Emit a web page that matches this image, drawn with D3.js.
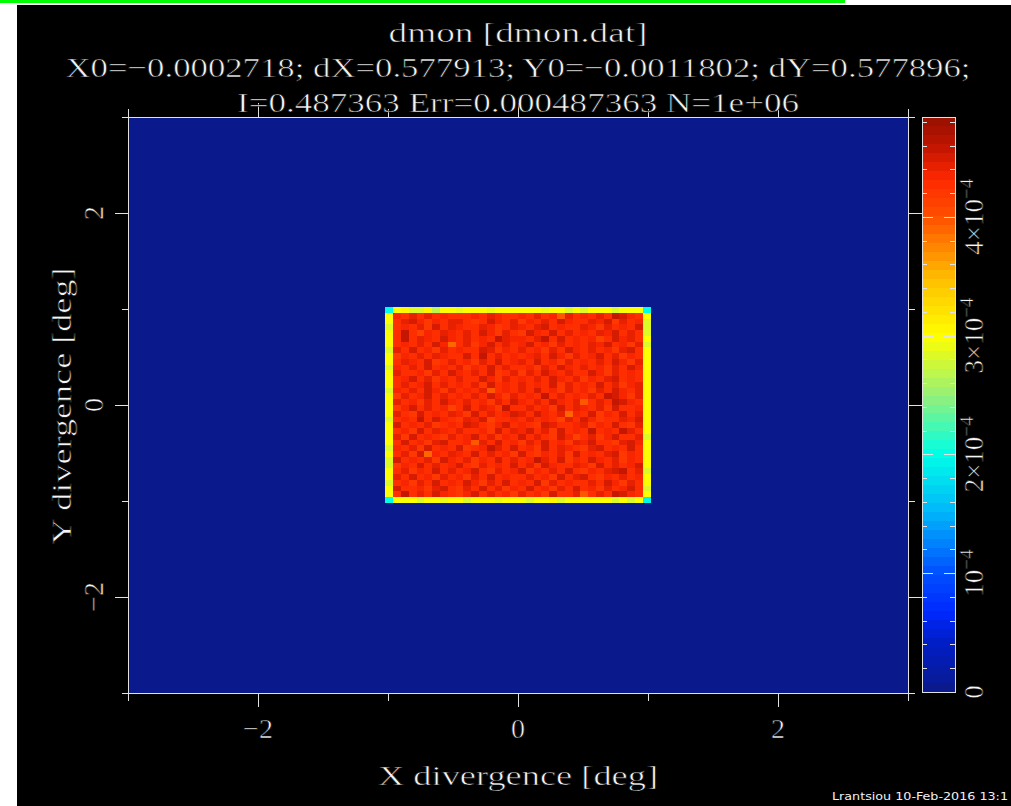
<!DOCTYPE html>
<html lang="en">
<head>
<meta charset="UTF-8">
<title>dmon [dmon.dat]</title>
<script src="https://d3js.org/d3.v7.min.js"></script>
<style>
  html, body { margin: 0; padding: 0; background: #fff; overflow: hidden; }
  svg { display: block; }
  .pg text { font-family: "Liberation Serif", "DejaVu Serif", serif; fill: #f4f4f4; stroke: #000; stroke-width: 0.6; }
  .footer { font-family: "DejaVu Sans Condensed", "DejaVu Sans", sans-serif; fill: #f0f0f0; }
</style>
</head>
<body>
<svg id="chart" width="1011" height="806"></svg>
<script>
// ---- text ----
const titleLines = [
  "dmon [dmon.dat]",
  "X0=\u22120.0002718; dX=0.577913; Y0=\u22120.0011802; dY=0.577896;",
  "I=0.487363 Err=0.000487363 N=1e+06"
];
const xLabel = "X divergence [deg]";
const yLabel = "Y divergence [deg]";
const footer = "Lrantsiou 10-Feb-2016 13:1";

// ---- axes ----
const xLimits = [-3, 3];
const yLimits = [-3, 3];
const xMajorTicks = [-2, 0, 2];
const xMinorTicks = [-3, -1, 1, 3];
const yMajorTicks = [-2, 0, 2];
const yMinorTicks = [-3, -1, 1, 3];
const tickText = ["\u22122", "0", "2"];

// ---- colour bar ----
const cbMax = 4.84e-4;
const cbMajorTicks = [0, 1e-4, 2e-4, 3e-4, 4e-4];
const cbMinorTicks = [0.2e-4, 0.4e-4, 0.6e-4, 0.8e-4, 1.2e-4, 1.4e-4, 1.6e-4, 1.8e-4,
  2.2e-4, 2.4e-4, 2.6e-4, 2.8e-4, 3.2e-4, 3.4e-4, 3.6e-4, 3.8e-4, 4.2e-4, 4.4e-4, 4.6e-4, 4.8e-4];
const cbMantissa = ["0", "10", "2\u00d710", "3\u00d710", "4\u00d710"];
const cbExponent = ["", "\u22124", "\u22124", "\u22124", "\u22124"];
const cbLevels = 64;
const cmapStops = [0, 0.43e-4, 0.67e-4, 1.0e-4, 1.5e-4, 2.0e-4, 2.5e-4, 3.0e-4, 3.48e-4, 3.76e-4, 4.0e-4, 4.32e-4, 4.6e-4, 4.84e-4];
const cmapColors = ["#0a1a8c", "#001ec8", "#0028ff", "#0050ff", "#00b4fa", "#00ffe6", "#96f078",
  "#ffff00", "#ffbe00", "#ff8200", "#ff5000", "#ff2800", "#be1400", "#961000"];

// ---- histogram (100 x 100 bins, beam box fills bins 33..66) ----
const binCount = 100;
const boxBins = [33, 66];
// digit codes -> intensity
const interiorLevels = [3.88e-4, 4.00e-4, 4.10e-4, 4.18e-4, 4.25e-4, 4.31e-4, 4.37e-4, 4.44e-4, 4.52e-4, 4.60e-4];
const edgeLevels = [2.62e-4, 2.68e-4, 2.74e-4, 2.80e-4, 2.86e-4, 2.92e-4, 2.98e-4, 3.04e-4, 3.10e-4, 3.16e-4];
const cornerValues = [2.02e-4, 1.98e-4, 2.02e-4, 1.95e-4]; // TL, TR, BL, BR
// interior rows, top (bin 65) to bottom (bin 34), columns bin 34..65
const interiorRows = [
  "64757465546576456475617564759865",
  "57863647753486573647586457683746",
  "46573857654763476578465476374658",
  "59426576574863743864857465768574",
  "49576486574659766579585656248675",
  "56475860473685746846375647685637",
  "75846374654873657463748657463784",
  "36574765584957465674863746857365",
  "57648357463758467584637465748637",
  "64758465736584754637486574637486",
  "75463748657483573748657448637465",
  "56847364754863746574865736478564",
  "47568475647384657465837565847367",
  "65748637465714657584637463748657",
  "37468574657486374659574657498637",
  "74637486574637486574865715749865",
  "36857462584763954756385764738546",
  "75384657638574687486570648365847",
  "56494865376825465746527486354768",
  "84657356487536846538745673658437",
  "46385764754638576847384659465974",
  "73856437468573648574386247368547",
  "58463784561758463748563768453786",
  "64738564835697485638476537846584",
  "47380657648574638536473856478365",
  "85647386473658475697483648657364",
  "36485746853746584738654763857468",
  "57364857468537468365748536478957",
  "74856375637485645746384785364756",
  "46375846586374856483746547586374",
  "85463784374857364856374856374685",
  "49574865368475637463854715749865"
];
const topEdge    = "68337166566656666665663636663666";
const bottomEdge = "66636656636665666366736666663636";
const leftEdge   = "66366636636663666636666363366366";
const rightEdge  = "63336366666666666666636666636636";

// ---- layout ----
const W = 1011, H = 806;
const plot = { left: 128, right: 908, top: 117, bottom: 693 };
const cbar = { left: 922, right: 955, top: 117, bottom: 692 };

const svg = d3.select("#chart");

// page frame: white margin, green strip, black canvas
svg.append("rect").attr("x", 0).attr("y", 0).attr("width", W).attr("height", H).attr("fill", "#fff");
svg.append("rect").attr("x", 17).attr("y", 5).attr("width", W - 17).attr("height", H - 5).attr("fill", "#000");
svg.append("rect").attr("x", 0).attr("y", 0).attr("width", 845).attr("height", 3).attr("fill", "#00ff00");

const xScale = d3.scaleLinear().domain(xLimits).range([plot.left, plot.right]);
const yScale = d3.scaleLinear().domain(yLimits).range([plot.bottom, plot.top]);
const cbScale = d3.scaleLinear().domain([0, cbMax]).range([cbar.bottom, cbar.top]);

const cmap = d3.scaleLinear().domain(cmapStops).range(cmapColors).interpolate(d3.interpolateRgb).clamp(true);
function levelOf(v) {
  return Math.max(0, Math.min(cbLevels - 1, Math.floor(v / cbMax * cbLevels)));
}
function levelColor(k) {
  return k === 0 ? cmapColors[0] : cmap((k + 0.5) / cbLevels * cbMax);
}
function colorOf(v) {
  return levelColor(levelOf(v));
}

function cellValue(i, j) {
  const [lo, hi] = boxBins;
  if (i < lo || i > hi || j < lo || j > hi) return 0;
  const top = j === hi, bottom = j === lo, left = i === lo, right = i === hi;
  if (top && left) return cornerValues[0];
  if (top && right) return cornerValues[1];
  if (bottom && left) return cornerValues[2];
  if (bottom && right) return cornerValues[3];
  if (top) return edgeLevels[+topEdge[i - lo - 1]];
  if (bottom) return edgeLevels[+bottomEdge[i - lo - 1]];
  if (left) return edgeLevels[+leftEdge[hi - 1 - j]];
  if (right) return edgeLevels[+rightEdge[hi - 1 - j]];
  return interiorLevels[+interiorRows[hi - 1 - j][i - lo - 1]];
}

const bw = (xLimits[1] - xLimits[0]) / binCount;
const bh = (yLimits[1] - yLimits[0]) / binCount;
const cells = [];
for (let j = 0; j < binCount; j++) {
  for (let i = 0; i < binCount; i++) {
    cells.push({ i, j, v: cellValue(i, j) });
  }
}

const gMap = svg.append("g").attr("shape-rendering", "crispEdges");
gMap.selectAll("rect")
  .data(cells)
  .enter().append("rect")
  .attr("x", d => Math.round(xScale(xLimits[0] + d.i * bw)))
  .attr("y", d => Math.round(yScale(yLimits[0] + (d.j + 1) * bh)))
  .attr("width", d => Math.round(xScale(xLimits[0] + (d.i + 1) * bw)) - Math.round(xScale(xLimits[0] + d.i * bw)))
  .attr("height", d => Math.round(yScale(yLimits[0] + d.j * bh)) - Math.round(yScale(yLimits[0] + (d.j + 1) * bh)))
  .attr("fill", d => colorOf(d.v));

// frame + ticks
const lineColor = "#e2e2e2";
const gAxes = svg.append("g").attr("stroke", lineColor).attr("stroke-width", 1).attr("shape-rendering", "crispEdges");
gAxes.append("rect")
  .attr("x", plot.left).attr("y", plot.top)
  .attr("width", plot.right - plot.left).attr("height", plot.bottom - plot.top)
  .attr("fill", "none");

function xTicks(values, len) {
  values.forEach(v => {
    const x = Math.round(xScale(v)) + 0.5;
    gAxes.append("line").attr("x1", x).attr("x2", x).attr("y1", plot.bottom).attr("y2", plot.bottom + len);
    gAxes.append("line").attr("x1", x).attr("x2", x).attr("y1", plot.top).attr("y2", plot.top - len);
  });
}
function yTicks(values, lenL, lenR) {
  values.forEach(v => {
    const y = Math.round(yScale(v)) + 0.5;
    gAxes.append("line").attr("y1", y).attr("y2", y).attr("x1", plot.left).attr("x2", plot.left - lenL);
    gAxes.append("line").attr("y1", y).attr("y2", y).attr("x1", plot.right).attr("x2", plot.right + lenR);
  });
}
xTicks(xMajorTicks, 14);
xTicks(xMinorTicks, 8);
yTicks(yMajorTicks, 13, 14);
yTicks(yMinorTicks, 6, 7);

// tick labels
const gText = svg.append("g").attr("class", "pg").attr("font-size", 28);
xMajorTicks.forEach((v, k) => {
  gText.append("text")
    .attr("x", xScale(v)).attr("y", 738)
    .attr("text-anchor", "middle")
    .text(tickText[k]);
});
yMajorTicks.forEach((v, k) => {
  gText.append("text")
    .attr("transform", `translate(103,${yScale(v)}) rotate(-90)`)
    .attr("text-anchor", "middle")
    .text(tickText[k]);
});

// titles
const titleY = [42, 77, 112];
const titleLen = [259, 905, 562];
titleLines.forEach((t, k) => {
  gText.append("text")
    .attr("x", 518).attr("y", titleY[k])
    .attr("text-anchor", "middle")
    .attr("textLength", titleLen[k])
    .attr("lengthAdjust", "spacingAndGlyphs")
    .text(t);
});
gText.append("text")
  .attr("x", 518).attr("y", 785)
  .attr("text-anchor", "middle")
  .attr("textLength", 280)
  .attr("lengthAdjust", "spacingAndGlyphs")
  .text(xLabel);
gText.append("text")
  .attr("transform", "translate(71,406) rotate(-90)")
  .attr("text-anchor", "middle")
  .attr("textLength", 277)
  .attr("lengthAdjust", "spacingAndGlyphs")
  .text(yLabel);

// colour bar
const bands = d3.range(cbLevels);
const gBar = svg.append("g").attr("shape-rendering", "crispEdges");
gBar.selectAll("rect")
  .data(bands)
  .enter().append("rect")
  .attr("x", cbar.left).attr("width", cbar.right - cbar.left)
  .attr("y", k => Math.round(cbScale((k + 1) / cbLevels * cbMax)))
  .attr("height", k => Math.round(cbScale(k / cbLevels * cbMax)) - Math.round(cbScale((k + 1) / cbLevels * cbMax)))
  .attr("fill", k => levelColor(k));
gBar.append("rect")
  .attr("x", cbar.left).attr("y", cbar.top)
  .attr("width", cbar.right - cbar.left).attr("height", cbar.bottom - cbar.top)
  .attr("fill", "none").attr("stroke", lineColor);

function cbTicks(values, len) {
  values.forEach(v => {
    const y = Math.round(cbScale(v)) + 0.5;
    gBar.append("line").attr("y1", y).attr("y2", y).attr("x1", cbar.left).attr("x2", cbar.left + len).attr("stroke", lineColor);
    gBar.append("line").attr("y1", y).attr("y2", y).attr("x1", cbar.right).attr("x2", cbar.right - len).attr("stroke", lineColor);
  });
}
cbTicks(cbMajorTicks, 11);
cbTicks(cbMinorTicks, 5);

cbMajorTicks.forEach((v, k) => {
  const t = gText.append("text")
    .attr("transform", `translate(983,${cbScale(v)}) rotate(-90)`)
    .attr("text-anchor", "middle")
    .attr("font-size", 27);
  t.append("tspan").text(cbMantissa[k]);
  if (cbExponent[k]) {
    t.append("tspan").attr("dy", -10).attr("font-size", 19).text(cbExponent[k]);
  }
});

// footer
svg.append("text")
  .attr("class", "footer")
  .attr("x", 832).attr("y", 800)
  .attr("font-size", 11)
  .attr("textLength", 176)
  .attr("lengthAdjust", "spacingAndGlyphs")
  .text(footer);
</script>
</body>
</html>
